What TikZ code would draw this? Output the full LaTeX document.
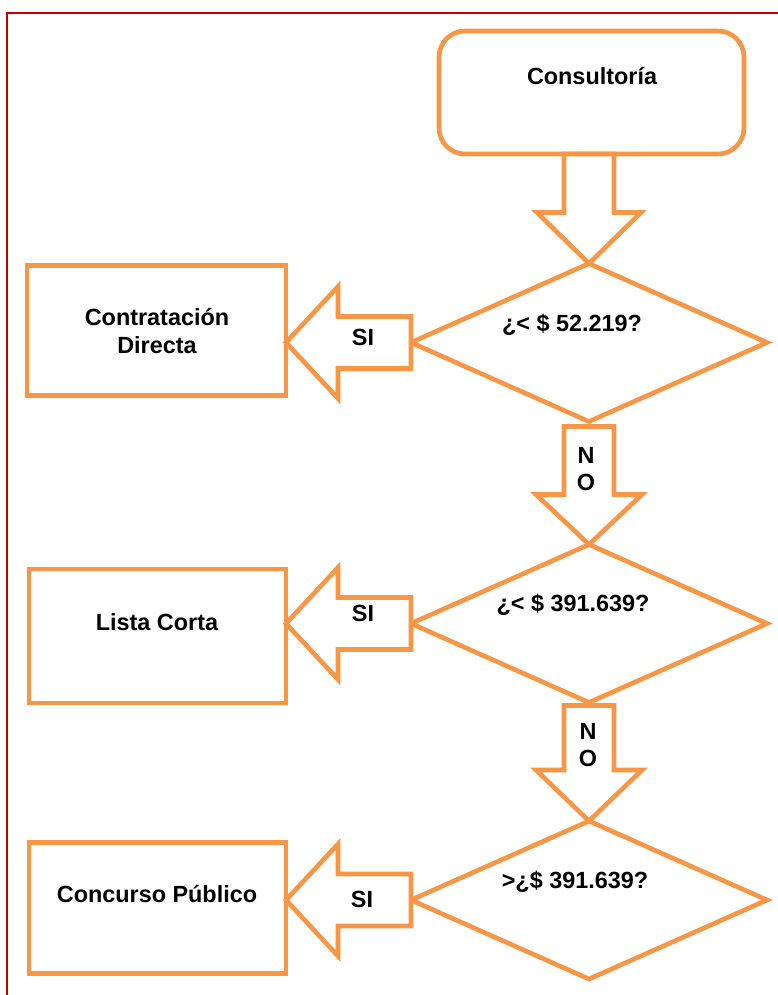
\documentclass[tikz,border=0pt]{standalone}
\usepackage{fontspec}
\setmainfont{Liberation Sans}
\usetikzlibrary{shapes.geometric,calc}
\definecolor{orangeline}{HTML}{F79646}
\definecolor{frame}{HTML}{C00000}
\tikzset{
  every node/.style={outer sep=0pt},
  shp/.style={draw=orangeline,line width=4.6pt,line join=miter,fill=white},
  rbox/.style={shp,rectangle,rounded corners=26pt,inner sep=0pt},
  sbox/.style={shp,rectangle,inner sep=0pt},
  dmd/.style={shp,diamond,inner sep=0pt,minimum width=356pt,minimum height=158pt},
  blk/.style={draw=orangeline,line width=4.6pt,line join=miter,fill=white},
  lbl/.style={font=\bfseries\fontsize{23.4}{28}\selectfont,anchor=base,inner sep=0pt,align=center},
}
\begin{document}
\begin{tikzpicture}[x=1pt,y=-1pt]
\useasboundingbox (0,0) rectangle (778,995);
% frame
\draw[frame,line width=2pt] (7,1000) -- (7,13) -- (790,13);
% shapes
\node[rbox,minimum width=305pt,minimum height=123pt] (cons) at (591.5,92.5) {};
\node[dmd] (d1) at (589,342.5) {};
\node[dmd] (d2) at (589,623.5) {};
\node[dmd] (d3) at (589,900) {};
\node[sbox,minimum width=259pt,minimum height=130pt] (b1) at (156.5,330.5) {};
\node[sbox,minimum width=257pt,minimum height=134pt] (b2) at (157.5,636) {};
\node[sbox,minimum width=257pt,minimum height=131.5pt] (b3) at (157.5,908) {};
% down block arrows
\coordinate (t1) at (cons.south -| d1.north);
\coordinate (t2) at ($(d1.south)+(0,5)$);
\coordinate (t3) at ($(d2.south)+(0,3)$);
\draw[blk] let \p1=(t1), \p2=(d1.north) in
  (\x2-25pt,\y1) -- (\x2-25pt,\y2+51pt) -- (\x2-52pt,\y2+51pt) -- (\x2,\y2)
  -- (\x2+52pt,\y2+51pt) -- (\x2+25pt,\y2+51pt) -- (\x2+25pt,\y1) -- cycle;
\draw[blk] let \p1=(t2), \p2=(d2.north) in
  (\x2-25pt,\y1) -- (\x2-25pt,\y2+50pt) -- (\x2-53pt,\y2+50pt) -- (\x2,\y2)
  -- (\x2+53pt,\y2+50pt) -- (\x2+25pt,\y2+50pt) -- (\x2+25pt,\y1) -- cycle;
\draw[blk] let \p1=(t3), \p2=(d3.north) in
  (\x2-25pt,\y1) -- (\x2-25pt,\y2+51pt) -- (\x2-53pt,\y2+51pt) -- (\x2,\y2)
  -- (\x2+53pt,\y2+51pt) -- (\x2+25pt,\y2+51pt) -- (\x2+25pt,\y1) -- cycle;
% left block arrows
\foreach \d/\b in {d1/b1,d2/b2,d3/b3}{
  \draw[blk] let \p1=(\d.west), \p2=(\b.east |- \d.west) in
    (\x1,\y1+26pt) -- (\x2+52pt,\y1+26pt) -- (\x2+52pt,\y1+56pt) -- (\x2,\y2)
    -- (\x2+52pt,\y1-56pt) -- (\x2+52pt,\y1-26pt) -- (\x1,\y1-26pt) -- cycle;
}
% texts
\node[lbl] (tcons) at (592,85) {Consultoría};
\node[lbl] (tb1) at (157,353) {Contratación\\Directa};
\node[lbl] (tb2) at (157,630) {Lista Corta};
\node[lbl] (tb3) at (157,902) {Concurso Público};
\node[lbl] (td1) at (572,331.5) {¿< \$ 52.219?};
\node[lbl] (td2) at (573,611.5) {¿< \$ 391.639?};
\node[lbl] (td3) at (575,888.5) {>¿\$ 391.639?};
\node[lbl] (si1) at (363,345) {SI};
\node[lbl] (si2) at (363,621.5) {SI};
\node[lbl] (si3) at (362,907) {SI};
\node[lbl,font=\bfseries\fontsize{23.4}{27}\selectfont] (no1) at (586,490) {N\\O};
\node[lbl,font=\bfseries\fontsize{23.4}{27}\selectfont] (no2) at (588,766.5) {N\\O};
\end{tikzpicture}
\end{document}
